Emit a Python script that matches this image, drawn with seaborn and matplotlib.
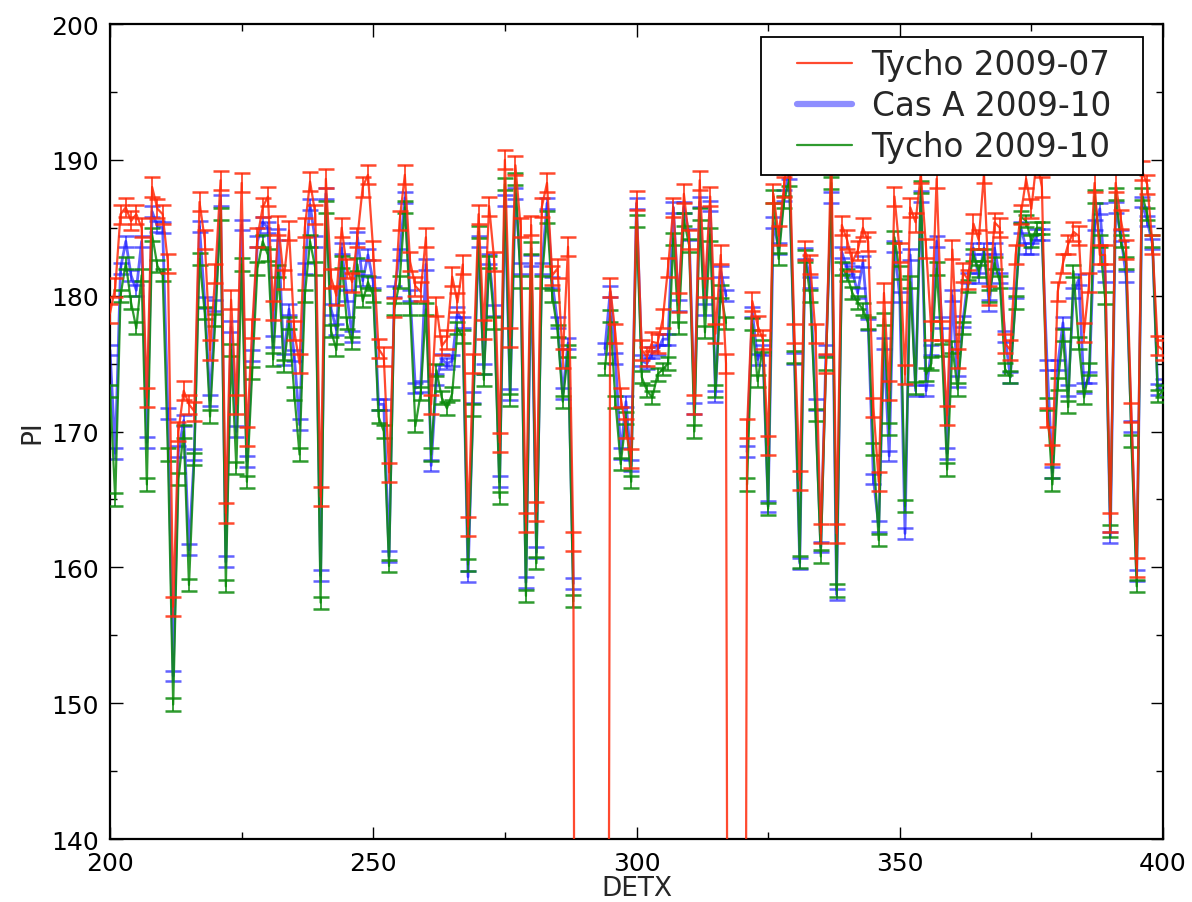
import matplotlib
matplotlib.use("Agg")
import numpy as np
import pandas as pd
import seaborn as sns
import matplotlib.pyplot as plt
from matplotlib.lines import Line2D
from matplotlib.legend_handler import HandlerBase
from matplotlib.ticker import MultipleLocator

nan = float("nan")

DETX = list(range(200, 401))

TYCHO_0907 = [
    178.7, 180.6, 186.0, 186.5, 185.5, 186.0, 185.0, 172.5, 188.0, 186.4,
    186.0, 182.4, 157.1, 170.0, 173.0, 172.0, 171.5, 186.9, 184.1, 176.0,
    181.6, 188.5, 164.0, 179.7, 172.0, 188.3, 169.6, 177.6, 184.3, 186.5,
    187.3, 178.9, 185.2, 181.2, 184.8, 177.4, 175.0, 185.0, 188.4, 186.0,
    165.2, 188.6, 181.3, 180.0, 185.0, 182.0, 181.0, 184.3, 188.0, 188.9,
    183.3, 176.1, 175.5, 167.0, 179.1, 185.5, 188.9, 182.5, 180.7, 180.3,
    184.3, 172.0, 179.2, 176.3, 176.8, 181.4, 179.5, 182.3, 163.0, 175.0,
    186.0, 177.5, 186.6, 182.5, 169.2, 190.0, 176.9, 189.6, 185.0, 163.3,
    185.2, 164.1, 186.5, 188.3, 181.5, 182.0, 175.4, 183.6, 161.9, 0.0,
    0.0, 0.0, 0.0, 0.0, 0.0, 180.6, 177.2, 172.5, 170.2, 168.0,
    187.0, 176.0, 175.5, 176.6, 176.5, 178.3, 182.1, 186.5, 179.5, 187.5,
    184.1, 172.0, 188.5, 180.6, 187.3, 177.2, 183.0, 175.0, 0.0, 0.0,
    0.0, 170.2, 179.6, 177.8, 176.8, 169.0, 187.5, 184.4, 188.0, 191.0,
    177.2, 166.4, 183.3, 182.3, 177.2, 162.5, 175.0, 191.0, 162.5, 185.2,
    184.1, 182.5, 183.3, 185.0, 184.0, 171.8, 166.3, 180.2, 173.0, 187.3,
    183.2, 174.2, 186.5, 185.4, 189.0, 183.5, 177.4, 188.6, 177.4, 171.2,
    183.4, 175.4, 181.7, 181.2, 185.3, 184.1, 189.0, 180.0, 185.4, 185.0,
    176.5, 176.0, 183.0, 186.0, 188.6, 186.4, 190.0, 188.0, 171.0, 168.3,
    180.3, 182.4, 183.8, 184.7, 184.4, 177.3, 181.0, 188.3, 183.0, 183.0,
    163.3, 188.3, 185.6, 183.4, 171.4, 160.0, 189.2, 188.2, 183.8, 176.3,
    176.0,
]

CASA_0910 = [
    176.0, 168.4, 182.0, 184.0, 181.5, 180.4, 184.0, 169.2, 186.2, 185.1,
    185.0, 171.3, 152.0, 168.5, 170.8, 161.3, 168.3, 185.1, 179.5, 172.3,
    179.3, 187.0, 160.4, 177.7, 170.0, 185.2, 167.8, 175.6, 184.0, 185.4,
    185.0, 176.6, 184.5, 175.3, 179.0, 175.6, 170.5, 182.0, 186.7, 184.0,
    159.4, 187.5, 179.0, 177.5, 183.5, 180.0, 177.0, 184.3, 181.1, 183.0,
    181.0, 172.0, 172.0, 160.8, 180.3, 183.0, 187.2, 180.0, 173.2, 173.3,
    182.3, 167.5, 173.8, 175.3, 175.0, 175.2, 178.8, 178.0, 159.3, 172.5,
    184.0, 174.6, 182.7, 178.9, 166.3, 187.0, 172.7, 187.5, 182.0, 158.9,
    182.6, 161.1, 182.0, 186.8, 181.0, 178.0, 172.8, 176.5, 158.8, nan,
    nan, nan, nan, nan, 176.1, 180.3, 175.4, 168.4, 172.2, 167.5,
    186.8, 175.2, 175.0, 175.8, 176.0, 176.8, 176.8, 186.5, 179.3, 186.5,
    184.5, 171.7, 186.9, 179.0, 186.6, 172.6, 181.8, 180.0, nan, nan,
    nan, 168.5, 178.8, 175.3, 176.0, 164.5, 185.4, 183.5, 187.4, 189.0,
    175.4, 160.3, 183.1, 181.0, 172.0, 161.5, 176.0, 187.2, 158.0, 183.2,
    182.0, 181.8, 180.2, 182.5, 177.9, 166.5, 163.0, 176.5, 168.2, 183.6,
    179.9, 162.5, 183.0, 173.0, 187.3, 173.0, 176.0, 184.0, 178.0, 168.4,
    180.0, 173.7, 178.1, 181.3, 183.5, 181.3, 183.5, 179.3, 183.5, 181.3,
    177.0, 174.0, 180.2, 185.0, 183.5, 183.5, 184.5, 184.5, 174.9, 167.0,
    174.9, 178.0, 173.0, 180.2, 181.2, 173.2, 174.0, 185.2, 186.4, 181.4,
    162.2, 186.5, 184.4, 181.4, 170.4, 159.4, 186.9, 185.5, 183.8, 173.1,
    173.5,
]

TYCHO_0910 = [
    173.0, 165.0, 180.0, 182.4, 179.5, 177.6, 181.5, 166.1, 184.5, 182.2,
    181.5, 168.3, 149.9, 166.5, 170.0, 158.7, 168.0, 182.7, 178.7, 171.1,
    178.2, 186.0, 158.6, 176.0, 167.3, 182.3, 166.3, 174.3, 182.0, 184.0,
    183.0, 175.3, 181.8, 174.8, 178.0, 172.8, 168.3, 180.0, 184.0, 182.0,
    157.4, 186.5, 177.4, 176.0, 182.5, 178.0, 176.5, 182.3, 179.6, 181.0,
    180.0, 171.1, 170.0, 160.1, 179.0, 181.0, 186.5, 179.0, 170.4, 172.8,
    179.0, 168.3, 174.5, 172.5, 171.7, 172.8, 177.6, 177.0, 160.2, 171.6,
    184.7, 173.8, 182.5, 178.0, 165.1, 188.2, 172.3, 188.6, 181.0, 157.9,
    183.5, 160.3, 181.0, 185.8, 180.0, 177.4, 172.2, 175.9, 157.5, nan,
    nan, nan, nan, nan, 174.6, 178.5, 172.2, 167.6, 171.0, 166.3,
    185.5, 174.0, 173.0, 172.5, 174.2, 174.6, 175.0, 184.2, 177.6, 185.6,
    183.7, 170.0, 186.0, 177.3, 184.5, 173.0, 180.3, 178.0, nan, nan,
    nan, 166.1, 177.9, 173.7, 176.3, 164.3, 187.3, 182.7, 186.9, 188.5,
    175.5, 160.4, 182.9, 180.0, 171.2, 160.8, 175.0, 188.3, 158.3, 182.0,
    181.5, 180.2, 179.5, 179.0, 178.0, 168.7, 162.0, 178.3, 170.2, 184.3,
    181.7, 164.5, 181.0, 173.2, 188.0, 174.2, 175.0, 182.0, 176.0, 167.2,
    176.2, 173.1, 177.6, 180.7, 183.0, 181.8, 183.0, 180.0, 182.4, 181.0,
    174.6, 174.0, 179.5, 185.8, 185.5, 184.0, 185.0, 185.0, 172.0, 166.1,
    173.5, 177.1, 171.8, 181.8, 176.5, 172.5, 174.6, 187.3, 184.0, 179.8,
    162.7, 187.5, 184.0, 182.4, 169.3, 158.6, 187.5, 186.0, 184.0, 172.6,
    173.0,
]

# one-sigma error of each series (PI units)
TYCHO_0907_ERR = 0.7
CASA_0910_ERR = 0.4
TYCHO_0910_ERR = 0.45

LABELS = ["Tycho 2009-07", "Cas A 2009-10", "Tycho 2009-10"]

assert len(TYCHO_0907) == len(DETX) == len(CASA_0910) == len(TYCHO_0910)

RED, BLUE, GREEN = "#ff2a0a", "#1f1fff", "#0a8a0a"

sns.set_style("ticks")
plt.rcParams["font.family"] = ["DejaVu Sans"]

fig = plt.figure(figsize=(11.92, 9.03), dpi=100)
ax = fig.add_axes([110 / 1192, 63 / 903, 1053 / 1192, 815 / 903])


def to_frame(values):
    seg, s, gap = [], 0, False
    for v in values:
        if np.isnan(v):
            gap = True
            seg.append(-1)
        else:
            if gap:
                s += 1
            gap = False
            seg.append(s)
    df = pd.DataFrame({"DETX": DETX, "PI": values, "seg": seg})
    return df.dropna()


series = [
    (CASA_0910, CASA_0910_ERR, BLUE, 2.0, 0.7, 2),
    (TYCHO_0910, TYCHO_0910_ERR, GREEN, 1.6, 0.85, 3),
    (TYCHO_0907, TYCHO_0907_ERR, RED, 1.6, 0.85, 4),
]

for vals, err, col, lw, al, z in series:
    df = to_frame(vals)
    sns.lineplot(data=df, x="DETX", y="PI", units="seg", estimator=None,
                 sort=False, color=col, lw=lw, alpha=al, ax=ax, legend=False,
                 zorder=z)
    ax.errorbar(df["DETX"], df["PI"], yerr=err, fmt="none", ecolor=col,
                elinewidth=1.3, capsize=6, capthick=1.8, alpha=al, zorder=z)

ax.set_xlim(200, 400)
ax.set_ylim(140, 200)
ax.xaxis.set_major_locator(MultipleLocator(50))
ax.xaxis.set_minor_locator(MultipleLocator(25))
ax.yaxis.set_major_locator(MultipleLocator(10))
ax.yaxis.set_minor_locator(MultipleLocator(5))
ax.tick_params(which="both", direction="in", top=True, right=True,
               labelsize=18, colors="black")
ax.tick_params(which="major", length=9, width=1)
ax.tick_params(which="minor", length=5, width=1)
ax.tick_params(axis="x", which="major", pad=9)
ax.tick_params(axis="y", which="major", pad=8)
for sp in ax.spines.values():
    sp.set_visible(True)
    sp.set_color("black")
    sp.set_linewidth(1.6)

ax.set_xlabel("DETX", fontsize=19, labelpad=0)
ax.set_ylabel("PI", fontsize=19, labelpad=4)


class PaddedLine(HandlerBase):
    """Legend line drawn on the right part of the handle box."""
    def __init__(self, frac):
        super().__init__()
        self.frac = frac

    def create_artists(self, legend, orig_handle, xdescent, ydescent,
                       width, height, fontsize, trans):
        x0 = -xdescent + width * self.frac
        x1 = -xdescent + width
        y = -ydescent + height / 2
        ln = Line2D([x0, x1], [y, y], color=orig_handle.get_color(),
                    lw=orig_handle.get_linewidth(),
                    alpha=orig_handle.get_alpha())
        ln.set_transform(trans)
        return [ln]


handles = [
    Line2D([], [], color=RED, lw=1.6, alpha=0.85),
    Line2D([], [], color=BLUE, lw=4.5, alpha=0.5),
    Line2D([], [], color=GREEN, lw=1.6, alpha=0.85),
]
hmap = {h: PaddedLine(0.31) for h in handles}
leg = ax.legend(handles, [lab + "  " for lab in LABELS], loc="upper right",
                bbox_to_anchor=((1143 - 110) / 1053, 1 - (38 - 25) / 815),
                borderaxespad=0, fontsize=23.5, frameon=True, fancybox=False,
                framealpha=1, edgecolor="black", labelspacing=0.24,
                handlelength=2.45, handletextpad=0.6, borderpad=0.35,
                handler_map=hmap)
leg.get_frame().set_linewidth(1.3)
leg.set_zorder(10)

fig.savefig("out.png", dpi=100)
